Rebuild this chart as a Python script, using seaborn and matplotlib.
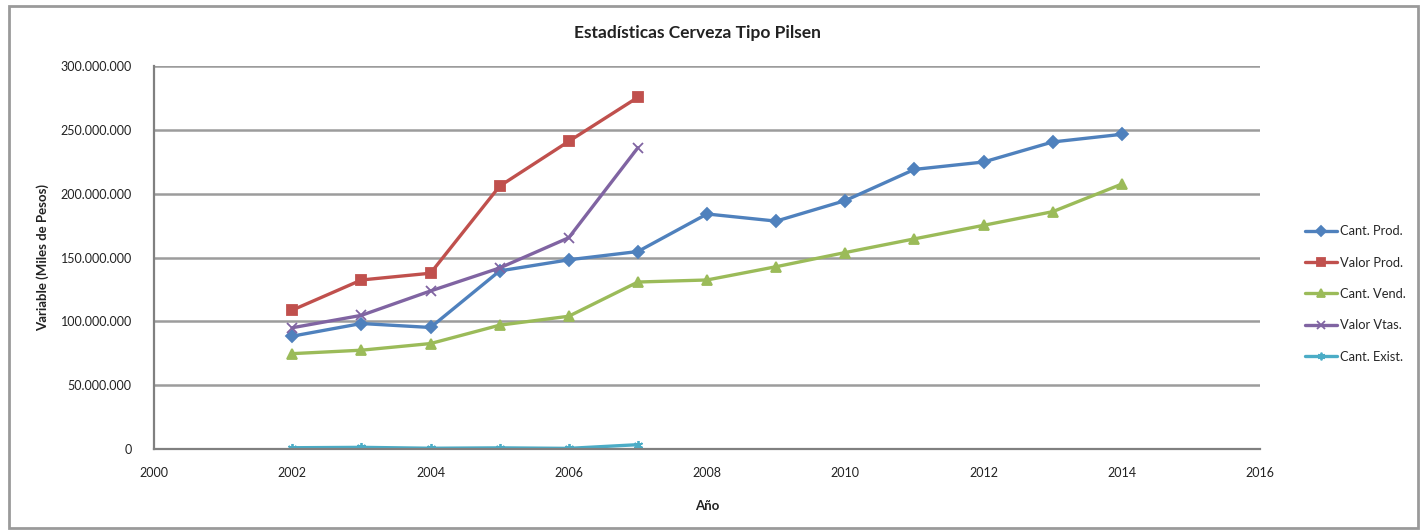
import numpy as np
import pandas as pd
import matplotlib
matplotlib.use("Agg")
import matplotlib.pyplot as plt
from matplotlib.ticker import FuncFormatter, MultipleLocator
from matplotlib.patches import Rectangle
import seaborn as sns

# Annual series (miles de pesos)
years_full = [2002, 2003, 2004, 2005, 2006, 2007, 2008, 2009, 2010, 2011, 2012, 2013, 2014]
years_short = [2002, 2003, 2004, 2005, 2006, 2007]

cant_prod = [88.4e6, 98.3e6, 95.2e6, 139.5e6, 148.2e6, 154.7e6, 184.1e6, 178.5e6,
             194.6e6, 219.0e6, 224.8e6, 240.5e6, 246.5e6]
valor_prod = [108.8e6, 132.4e6, 137.7e6, 205.9e6, 241.0e6, 275.5e6]
cant_vend = [74.7e6, 77.4e6, 82.6e6, 97.0e6, 104.0e6, 130.8e6, 132.4e6, 142.8e6,
             153.9e6, 164.6e6, 175.2e6, 185.9e6, 207.5e6]
valor_vtas = [95.0e6, 104.7e6, 123.8e6, 141.8e6, 165.5e6, 236.0e6]
cant_exist = [1.0e6, 1.3e6, 0.6e6, 0.9e6, 0.5e6, 3.4e6]

series_names = ["Cant. Prod.", "Valor Prod.", "Cant. Vend.", "Valor Vtas.", "Cant. Exist."]
series_years = [years_full, years_short, years_full, years_short, years_short]
series_values = [cant_prod, valor_prod, cant_vend, valor_vtas, cant_exist]

title = "Estadísticas Cerveza Tipo Pilsen"
xlabel = "Año"
ylabel = "Variable (Miles de Pesos)"

colors = ["#4F81BD", "#C0504D", "#9BBB59", "#8064A2", "#4BACC6"]
marker_list = ["D", "s", "^", "x", (6, 2, 0)]

sns.set_theme(style="white")
plt.rcParams["font.family"] = ["Lato", "DejaVu Sans"]

fig = plt.figure(figsize=(14.22, 5.31), dpi=100)
ax = fig.add_axes([0.1083, 0.1544, 0.7778, 0.7213])

for name, yrs, vals, col, mk in zip(series_names, series_years, series_values,
                                    colors, marker_list):
    d = pd.DataFrame({"Año": yrs, "Valor": vals})
    sns.lineplot(data=d, x="Año", y="Valor", ax=ax, color=col, marker=mk,
                 linewidth=2.4, markersize=6.5, markeredgewidth=1.3,
                 markerfacecolor=col, markeredgecolor=col, label=name)

ax.set_xlim(2000, 2016)
ax.set_ylim(0, 300e6)
ax.xaxis.set_major_locator(MultipleLocator(2))
ax.yaxis.set_major_locator(MultipleLocator(50e6))

def miles(v, pos):
    return f"{int(round(v)):,}".replace(",", ".")

ax.yaxis.set_major_formatter(FuncFormatter(miles))
ax.xaxis.set_major_formatter(FuncFormatter(lambda v, p: f"{int(v)}"))

ax.grid(axis="y", color="#9C9C9C", linewidth=1.8)
ax.grid(axis="x", visible=False)
ax.set_axisbelow(True)
for side in ["top", "right"]:
    ax.spines[side].set_visible(False)
for side in ["left", "bottom"]:
    ax.spines[side].set_color("#808080")
    ax.spines[side].set_linewidth(1.6)

ax.tick_params(axis="both", labelsize=9.0, colors="#222222", length=0)
ax.tick_params(axis="x", pad=13)
ax.tick_params(axis="y", pad=16)

ax.set_xlabel(xlabel, fontsize=9.5, fontweight="bold", color="#222222", labelpad=15)
ax.set_ylabel(ylabel, fontsize=9.5, fontweight="bold", color="#222222", labelpad=8)
fig.text(697 / 1422, 1 - 33 / 531, title, fontsize=12.5, fontweight="bold",
         color="#222222", ha="center", va="center")

leg = ax.legend(loc="center left", bbox_to_anchor=(1.03, 0.405), frameon=False,
                fontsize=9.3, handlelength=2.5, handletextpad=0.25,
                labelspacing=1.5, markerscale=0.85)

# outer chart border
fig.patches.append(Rectangle((9 / 1422, 3 / 531), 1 - 13 / 1422, 522 / 531,
                             transform=fig.transFigure, fill=False,
                             edgecolor="#9A9A9A", linewidth=2.0))

fig.savefig("out.png", dpi=100, facecolor="white")
